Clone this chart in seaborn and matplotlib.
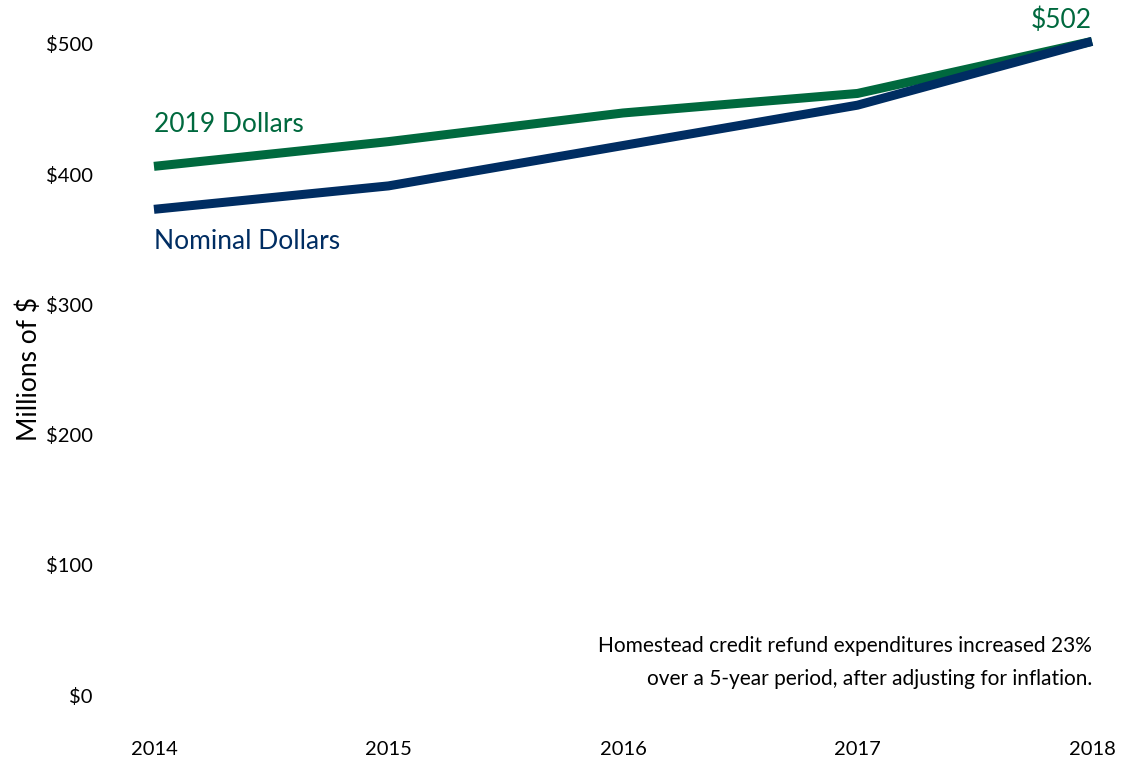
import matplotlib
matplotlib.use("Agg")
import matplotlib.pyplot as plt
import seaborn as sns
import pandas as pd

years = [2014, 2015, 2016, 2017, 2018]
real_2019 = [406, 425, 447, 462, 502]
nominal = [373, 391, 422, 453, 502]
y_ticks = [0, 100, 200, 300, 400, 500]

GREEN = "#00693E"
NAVY = "#002D62"

sns.set_theme(style="white")
plt.rcParams["font.family"] = ["Lato", "DejaVu Sans"]

df = pd.DataFrame({"year": years * 2,
                   "value": real_2019 + nominal,
                   "series": ["2019 Dollars"] * 5 + ["Nominal Dollars"] * 5})

fig = plt.figure(figsize=(11.43, 7.70), dpi=100)
ax = fig.add_axes([0.1347, 0.0974, 0.8207, 0.8455])

sns.lineplot(data=df, x="year", y="value", hue="series",
             palette={"2019 Dollars": GREEN, "Nominal Dollars": NAVY},
             linewidth=6.5, legend=False, ax=ax)
for ln in ax.lines:
    ln.set_clip_on(False)
    ln.set_solid_capstyle("butt")
    ln.set_solid_joinstyle("round")

ax.set_xlim(years[0], years[-1])
ax.set_ylim(0, 500)
ax.set_xticks(years)
ax.set_xticklabels([str(y) for y in years])
ax.set_yticks(y_ticks)
ax.set_yticklabels([f"${v}" for v in y_ticks])
ax.tick_params(axis="y", length=0, pad=44, labelsize=14.5, labelcolor="black")
ax.tick_params(axis="x", length=0, pad=33, labelsize=14.5, labelcolor="black")
for lbl in ax.get_yticklabels():
    lbl.set_horizontalalignment("right")
for s in ax.spines.values():
    s.set_visible(False)
ax.grid(False)
ax.set_xlabel("")
ax.set_ylabel("Millions of $", fontsize=19, color="black", labelpad=3)

ax.text(years[0], 438, "2019 Dollars", color=GREEN, fontsize=19,
        ha="left", va="center")
ax.text(years[0], 348, "Nominal Dollars", color=NAVY, fontsize=19,
        ha="left", va="center")
ax.text(years[-1], 518, f"${real_2019[-1]}", color=GREEN, fontsize=19,
        ha="right", va="center")
ax.text(years[-1], 25,
        "Homestead credit refund expenditures increased 23%\n"
        "over a 5-year period, after adjusting for inflation.",
        color="black", fontsize=15, ha="right", va="center",
        multialignment="right", linespacing=1.8)

fig.savefig("out.png", dpi=100, facecolor="white")
